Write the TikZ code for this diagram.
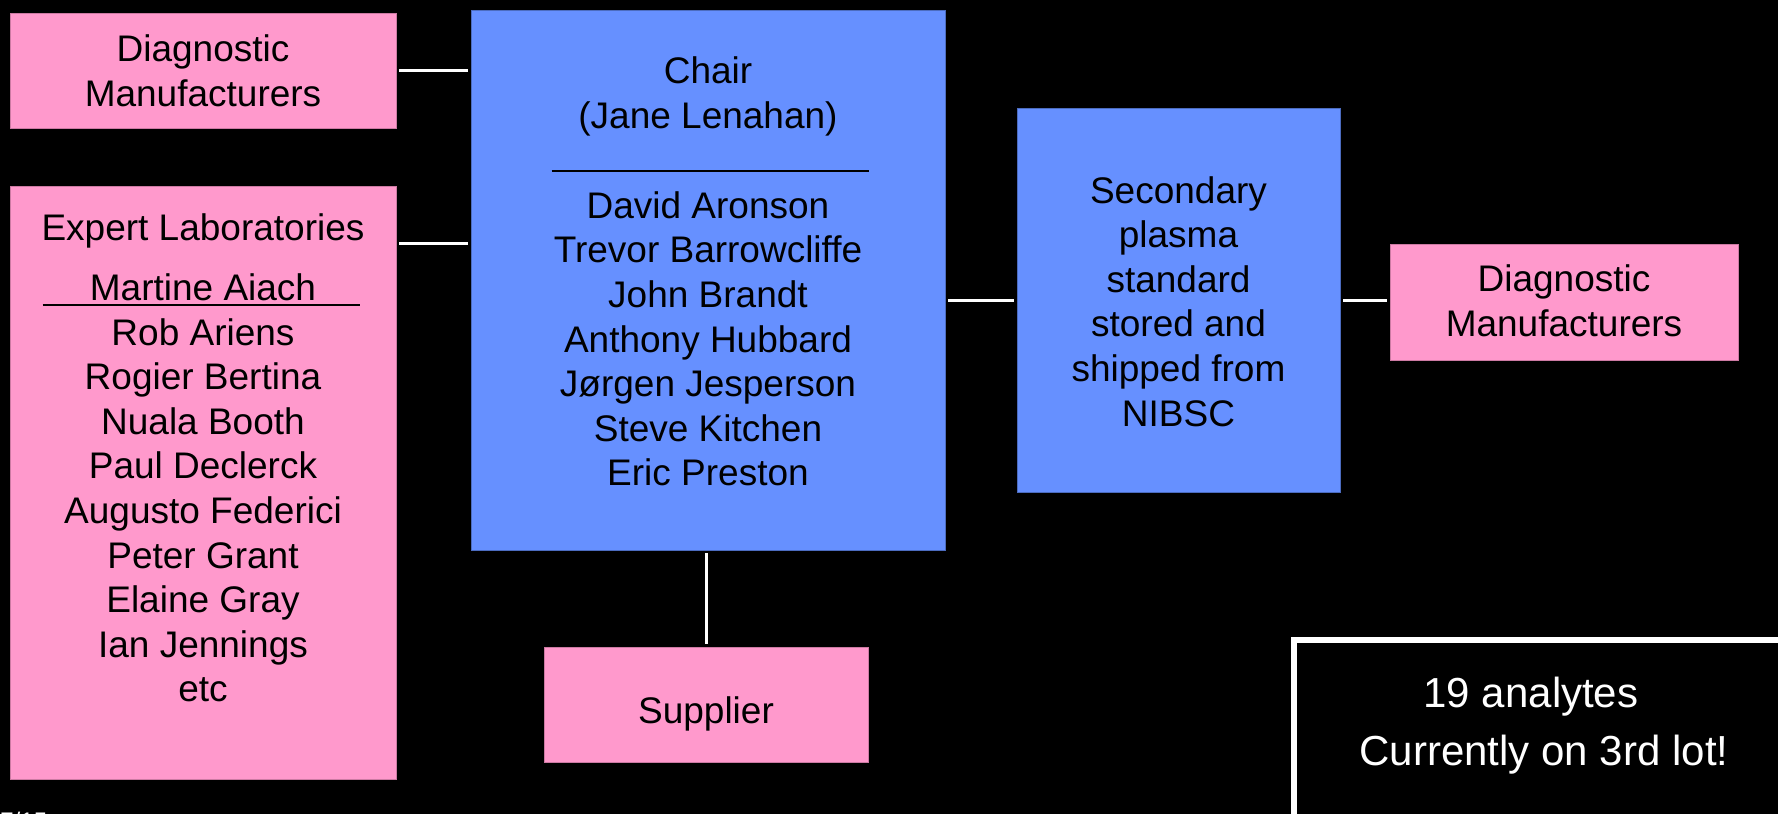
\documentclass[tikz,border=0pt]{standalone}
\usepackage{fontspec}
\setmainfont{Liberation Sans}
\usetikzlibrary{calc}
\definecolor{pinkbox}{HTML}{FF99CC}
\definecolor{bluebox}{HTML}{6690FF}
\begin{document}
\begin{tikzpicture}[x=0.5pt,y=-0.5pt,
  pbox/.style={rectangle, fill=pinkbox, draw=pinkbox!80!black, line width=0.4pt, inner sep=0pt},
  bbox/.style={rectangle, fill=bluebox, draw=bluebox!75!black, line width=0.4pt, inner sep=0pt},
  btxt/.style={align=center, inner sep=0pt, text=black, font=\fontsize{18.5pt}{22.3pt}\selectfont},
  wtxt/.style={inner sep=0pt, text=white, font=\fontsize{21pt}{24pt}\selectfont},
  conn/.style={draw=white, line width=1.5pt, shorten <=1.5pt, shorten >=1.5pt},
  sepline/.style={draw=black, line width=1pt}]
\fill[black] (0,0) rectangle (1778,814);
\useasboundingbox (0,0) rectangle (1778,814);

% boxes
\node[pbox, minimum width=193pt, minimum height=57.75pt] (dml) at (203,70.75) {};
\node[pbox, minimum width=193pt, minimum height=296.5pt] (exp) at (203,482.5) {};
\node[bbox, minimum width=237pt, minimum height=270pt] (chair) at (708,280) {};
\node[pbox, minimum width=162pt, minimum height=57.5pt] (sup) at (706,704.5) {};
\node[bbox, minimum width=161.5pt, minimum height=192pt] (sec) at (1178.5,300) {};
\node[pbox, minimum width=174pt, minimum height=58pt] (dmr) at (1564,302) {};
\node[draw=white, line width=3pt, inner sep=0pt, minimum width=254pt, minimum height=88.5pt, anchor=north west] (ana) at (1291,637) {};

% texts
\node[btxt] (dmltxt) at ($(dml.center)+(0,4.5)$) {\strut Diagnostic\\\strut Manufacturers};
\node[btxt] (exptxt) at ($(exp.center)+(0,-20.2)$) {\strut Expert Laboratories\\[7.7pt]
  Martine Aiach\\Rob Ariens\\Rogier Bertina\\Nuala Booth\\Paul Declerck\\Augusto Federici\\
  Peter Grant\\Elaine Gray\\Ian Jennings\\\strut etc};
\node[btxt] (chairtxt) at ($(chair.center)+(0,-4)$) {\strut Chair\\(Jane Lenahan)\\[22.6pt]
  David Aronson\\Trevor Barrowcliffe\\John Brandt\\Anthony Hubbard\\Jørgen Jesperson\\
  Steve Kitchen\\\strut Eric Preston};
\node[btxt] (suptxt) at ($(sup.center)+(0,10.5)$) {\strut Supplier};
\node[btxt] (sectxt) at ($(sec.center)+(0,5.6)$) {\strut Secondary\\plasma\\standard\\stored and\\shipped from\\\strut NIBSC};
\node[btxt] (dmrtxt) at ($(dmr.center)+(0,2.9)$) {\strut Diagnostic\\\strut Manufacturers};
\node[wtxt, anchor=base] (ana1) at (1531,707) {19 analytes};
\node[wtxt, anchor=base] (ana2) at (1544,765) {Currently on 3rd lot!};
\node[anchor=base west, inner sep=0pt, text=white, font=\fontsize{12pt}{14pt}\selectfont] (pg) at (0,829) {7/15};

% separator rules
\draw[sepline] ($(chair.north west)+(81,161)$) -- ++(317,0);
\draw[sepline] ($(exp.north west)+(33,119)$) -- ++(317,0);

% connectors
\coordinate (expc) at ($(exp.north east)+(0,58)$);
\draw[conn] (dml.east) -- (dml.east -| chair.west);
\draw[conn] (expc) -- (expc -| chair.west);
\draw[conn] (sec.west -| chair.east) -- (sec.west);
\draw[conn] (sec.east) -- (sec.east -| dmr.west);
\draw[conn] (sup.north |- chair.south) -- (sup.north);
\end{tikzpicture}
\end{document}
